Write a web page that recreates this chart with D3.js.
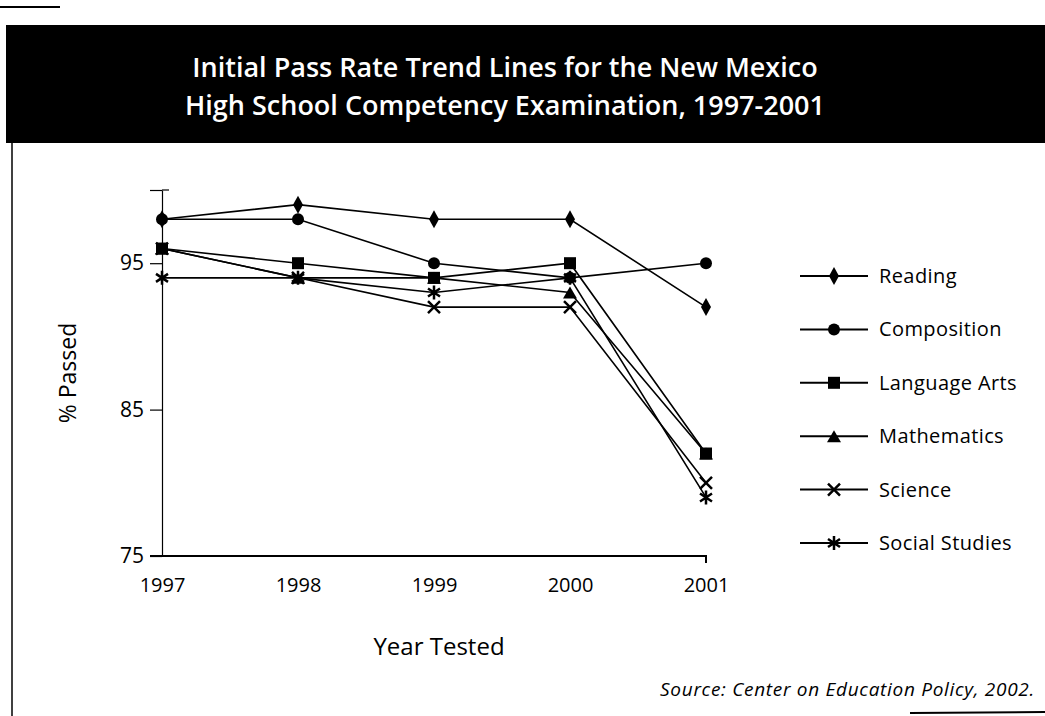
<!DOCTYPE html>
<html>
<head>
<meta charset="utf-8">
<script src="https://cdn.jsdelivr.net/npm/d3@7/dist/d3.min.js"></script>
<style>
  body { margin: 0; background: #fff; }
  text { font-family: "Open Sans", Lato, sans-serif; }
</style>
</head>
<body>
<svg id="chart" width="1045" height="716"></svg>
<script>
// data
var years = ["1997", "1998", "1999", "2000", "2001"];
var subjects = ["Reading", "Composition", "Language Arts", "Mathematics", "Science", "Social Studies"];
var reading       = [98, 99, 98, 98, 92];
var composition   = [98, 98, 95, 94, 95];
var languageArts  = [96, 95, 94, 95, 82];
var mathematics   = [96, 94, 94, 93, 82];
var science       = [96, 94, 92, 92, 80];
var socialStudies = [94, 94, 93, 94, 79];
var yTicks = [75, 85, 95, 100];
var yLabels = ["75", "85", "95", ""];

var series = [reading, composition, languageArts, mathematics, science, socialStudies];

var svg = d3.select("#chart");

// title band
svg.append("line")
    .attr("x1", 0).attr("x2", 60).attr("y1", 7).attr("y2", 7)
    .attr("stroke", "#000").attr("stroke-width", 2);
svg.append("rect")
    .attr("x", 6).attr("y", 25).attr("width", 1045).attr("height", 118)
    .attr("fill", "#000");
svg.append("text")
    .attr("x", 505).attr("y", 77)
    .attr("text-anchor", "middle")
    .attr("fill", "#fff").attr("font-size", 27).attr("font-weight", 600)
    .text("Initial Pass Rate Trend Lines for the New Mexico");
svg.append("text")
    .attr("x", 505).attr("y", 115)
    .attr("text-anchor", "middle")
    .attr("fill", "#fff").attr("font-size", 27).attr("font-weight", 600)
    .text("High School Competency Examination, 1997-2001");

// left frame line and bottom rule
svg.append("line")
    .attr("x1", 12).attr("x2", 12).attr("y1", 143).attr("y2", 716)
    .attr("stroke", "#000").attr("stroke-width", 1.5);
svg.append("line")
    .attr("x1", 910).attr("x2", 1045).attr("y1", 713).attr("y2", 712)
    .attr("stroke", "#000").attr("stroke-width", 2);

// scales
var x = d3.scalePoint().domain(years).range([162, 706]);
var y = d3.scaleLinear().domain([75, 100]).range([556, 190]);

var g = svg.append("g");

// axes
g.append("g")
    .attr("transform", "translate(162,0)")
    .call(d3.axisLeft(y).tickValues(yTicks).tickSize(12).tickPadding(6).tickSizeOuter(0)
      .tickFormat(function(d, i) { return yLabels[i]; }))
    .call(function(a) {
      a.select(".domain").attr("stroke-width", 1.2);
      a.selectAll(".tick line").attr("stroke-width", 1.2);
      a.selectAll(".tick text").attr("font-size", 21).attr("fill", "#000")
        .style("font-family", "'Open Sans', sans-serif");
    });
// top tick turns right like a bracket
g.append("line")
    .attr("x1", 162).attr("x2", 169).attr("y1", y(100)).attr("y2", y(100))
    .attr("stroke", "#000").attr("stroke-width", 1.2);

g.append("g")
    .attr("transform", "translate(0," + y(75) + ")")
    .call(d3.axisBottom(x).tickSize(0).tickPadding(22))
    .call(function(a) {
      a.select(".domain").attr("stroke-width", 2).attr("d", "M150,0H706V7");
      a.selectAll(".tick text").attr("font-size", 20).attr("fill", "#000")
        .style("font-family", "'Open Sans', sans-serif");
    });

// axis titles
svg.append("text")
    .attr("transform", "translate(76,373) rotate(-90)")
    .attr("text-anchor", "middle").attr("font-size", 23)
    .text("% Passed");
svg.append("text")
    .attr("x", 439).attr("y", 655)
    .attr("text-anchor", "middle").attr("font-size", 24)
    .text("Year Tested");

// marker shapes
function marker(sel, i) {
  if (i === 0) {
    sel.append("path").attr("d", "M0,-9L5,0L0,9L-5,0Z").attr("fill", "#000");
  } else if (i === 1) {
    sel.append("circle").attr("r", 6).attr("fill", "#000");
  } else if (i === 2) {
    sel.append("rect").attr("x", -6).attr("y", -6).attr("width", 12).attr("height", 12).attr("fill", "#000");
  } else if (i === 3) {
    sel.append("path").attr("d", "M0,-6L7,6L-7,6Z").attr("fill", "#000");
  } else if (i === 4) {
    sel.append("path").attr("d", "M-6,-6L6,6M6,-6L-6,6")
      .attr("stroke", "#000").attr("stroke-width", 2.5).attr("fill", "none");
  } else {
    sel.append("path").attr("d", "M0,-7V7M-6,-4L6,4M6,-4L-6,4")
      .attr("stroke", "#000").attr("stroke-width", 2.5).attr("fill", "none");
  }
}

var line = d3.line()
    .x(function(d, i) { return x(years[i]); })
    .y(function(d) { return y(d); });

series.forEach(function(s) {
  g.append("path")
      .datum(s)
      .attr("d", line)
      .attr("fill", "none")
      .attr("stroke", "#000")
      .attr("stroke-width", 1.6);
});
series.forEach(function(s, k) {
  g.selectAll(null)
    .data(s)
    .enter().append("g")
      .attr("transform", function(d, i) { return "translate(" + x(years[i]) + "," + y(d) + ")"; })
      .each(function() { marker(d3.select(this), k); });
});

// legend
var legend = svg.append("g")
  .selectAll("g")
  .data(subjects)
  .enter().append("g")
    .attr("transform", function(d, i) { return "translate(800," + (276 + i * 53.4) + ")"; });

legend.append("line")
    .attr("x1", 0).attr("x2", 68)
    .attr("stroke", "#000").attr("stroke-width", 2);
legend.each(function(d, i) {
  var m = d3.select(this).append("g").attr("transform", "translate(34,0)");
  marker(m, i);
});
legend.append("text")
    .attr("x", 79).attr("dy", "0.35em")
    .attr("font-size", 20).attr("letter-spacing", 0.4)
    .text(function(d) { return d; });

// source
svg.append("text")
    .attr("x", 1035).attr("y", 696)
    .attr("text-anchor", "end").attr("font-size", 19).attr("font-style", "italic")
    .attr("letter-spacing", 0.7)
    .text("Source: Center on Education Policy, 2002.");
</script>
</body>
</html>
